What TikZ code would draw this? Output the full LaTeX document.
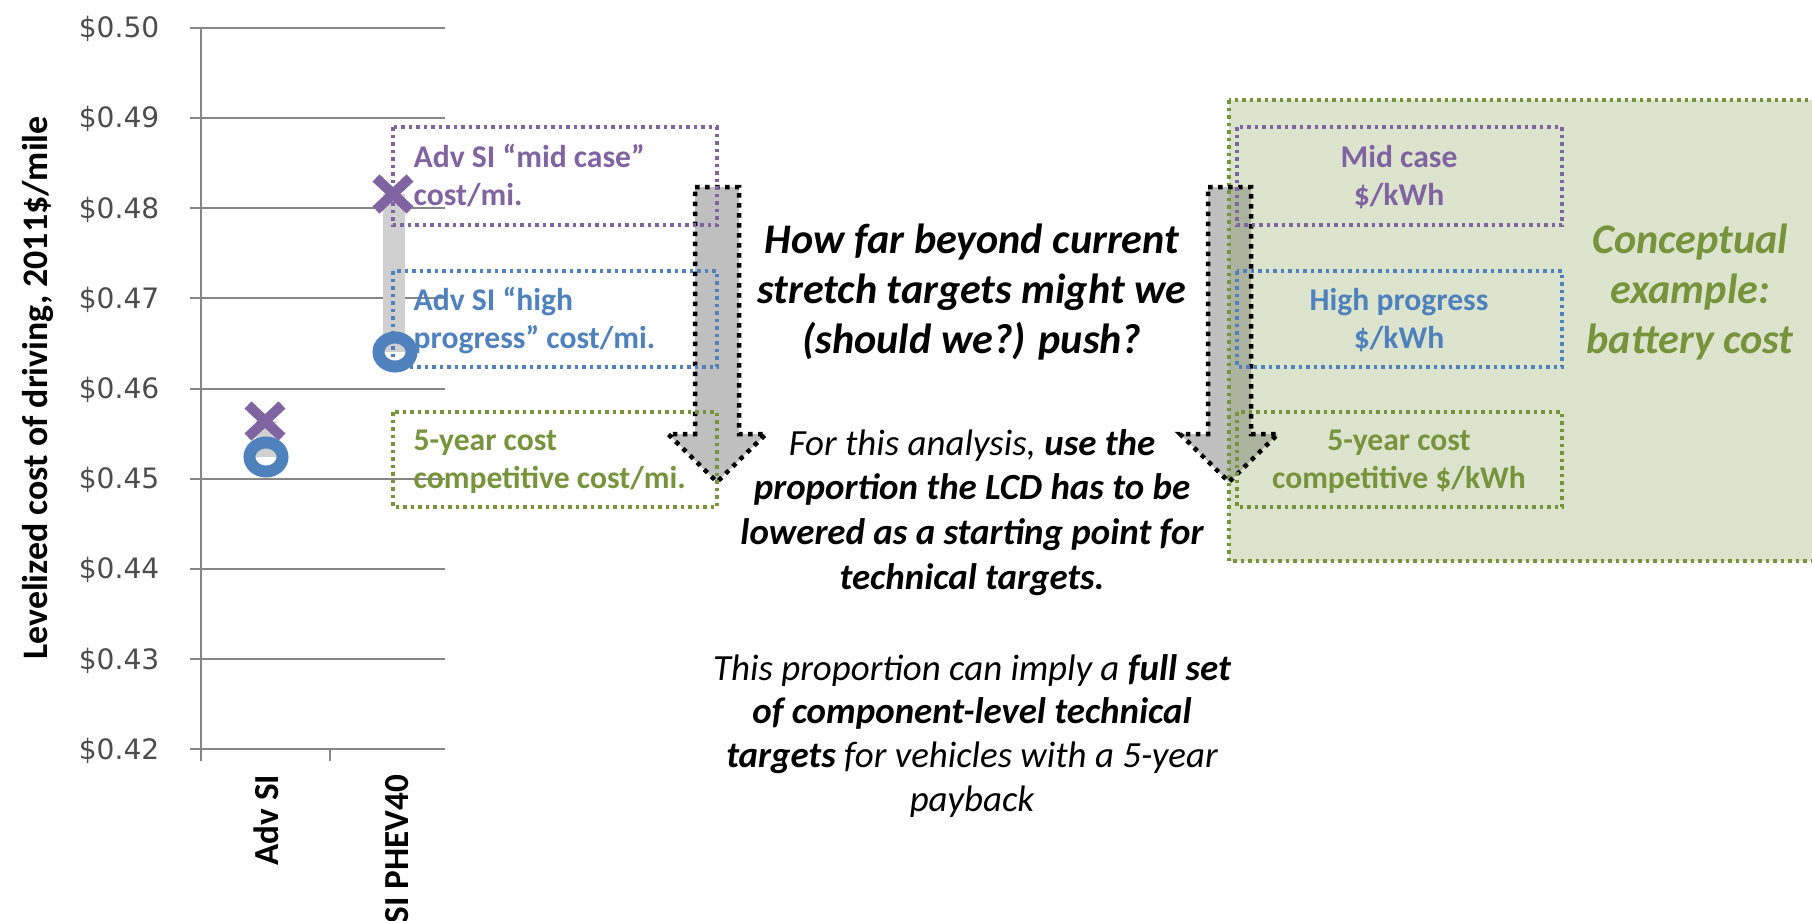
\documentclass[tikz,border=0pt]{standalone}
\usepackage{fontspec}
\setmainfont{Carlito}
\newfontfamily\tickfont{DejaVu Sans}
\usepackage{tikz}
\definecolor{gridgray}{HTML}{868686}
\definecolor{purp}{HTML}{8064A2}
\definecolor{blu}{HTML}{4F81BD}
\definecolor{olive}{HTML}{77933C}
\definecolor{bargray}{HTML}{D0D0D0}
\definecolor{arrowgray}{HTML}{BFBFBF}
\newcommand{\boxfont}{\bfseries\fontsize{9}{10.8}\selectfont}
\newcommand{\bigfont}{\bfseries\itshape\fontsize{12}{14.4}\selectfont}
\newcommand{\midfont}{\itshape\fontsize{10.5}{12.6}\selectfont}
\tikzset{
  gridline/.style={color=gridgray, line width=0.2mm},
  ticklabel/.style={anchor=base east, inner sep=0pt, text=black!70, font=\tickfont\fontsize{8}{9}\selectfont},
  catlabel/.style={anchor=east, rotate=90, inner sep=0pt, font=\bfseries\fontsize{10}{12}\selectfont},
  dotbox/.style={line width=0.35mm, dash pattern=on 0.35mm off 0.4mm},
  dotarrow/.style={line width=0.45mm, dash pattern=on 0.45mm off 0.55mm},
  xmark/.style={color=purp, line width=1mm},
  omark/.style={color=blu, line width=1.2mm},
  line/.style={anchor=base, inner sep=0pt},
}

\begin{document}
\begin{tikzpicture}[x=0.1mm, y=-0.1mm]
\useasboundingbox (0,0) rectangle (1812,920);
\clip (0,0) rectangle (1812,920);
% chart
\draw[gridline] (190,27.7)--(445,27.7);
\draw[gridline] (190,117.9)--(445,117.9);
\draw[gridline] (190,208.1)--(445,208.1);
\draw[gridline] (190,298.3)--(445,298.3);
\draw[gridline] (190,388.5)--(445,388.5);
\draw[gridline] (190,478.7)--(445,478.7);
\draw[gridline] (190,568.9)--(445,568.9);
\draw[gridline] (190,659.1)--(445,659.1);
\draw[gridline] (190,749.3)--(445,749.3);
\draw[gridline] (201,27.7)--(201,761);
\draw[gridline] (330,749.3)--(330,761);
\draw (160,37.7) node[ticklabel] (t50) {\$0.50};
\draw (160,127.9) node[ticklabel] (t49) {\$0.49};
\draw (160,218.1) node[ticklabel] (t48) {\$0.48};
\draw (160,308.3) node[ticklabel] (t47) {\$0.47};
\draw (160,398.5) node[ticklabel] (t46) {\$0.46};
\draw (160,488.7) node[ticklabel] (t45) {\$0.45};
\draw (160,578.9) node[ticklabel] (t44) {\$0.44};
\draw (160,669.1) node[ticklabel] (t43) {\$0.43};
\draw (160,759.3) node[ticklabel] (t42) {\$0.42};
\draw (38,388) node[rotate=90, font=\bfseries\fontsize{10.2}{12}\selectfont] (ytitle) {Levelized cost of driving, 2011\$/mile};
\draw (266,774) node[catlabel] (advsi) {Adv SI};
\draw (397,774) node[catlabel] (phev) {SI PHEV40};
% range bars and markers
\fill[bargray] (256,421)--(276,421)--(276,457)--(256,457)--cycle;
\fill[bargray] (383,194)--(405,194)--(405,352)--(383,352)--cycle;
\draw[xmark] (248,405)--(282,437);
\draw[xmark] (248,437)--(282,405);
\draw[xmark] (376,178)--(410,210);
\draw[xmark] (376,210)--(410,178);
\draw[omark] (266,457) ellipse [x radius=16.5, y radius=14.5];
\draw[omark] (395,352) ellipse [x radius=16.5, y radius=14.5];
% left arrow
\draw[fill=arrowgray, dotarrow] (695,187)--(739,187)--(739,434)--(766,434)--(717,482)--(668,434)--(695,434)--cycle;
% left boxes
\draw[purp, dotbox] (393,127) rectangle (717,225);
\draw[blu, dotbox] (393,271) rectangle (717,367);
\draw[olive, dotbox] (393,412) rectangle (717,507);
\draw (413,167) node[line, anchor=base west, text=purp, font=\boxfont] (mid1) {Adv SI “mid case”};
\draw (413,205) node[line, anchor=base west, text=purp, font=\boxfont] (mid2) {cost/mi.};
\draw (413,310) node[line, anchor=base west, text=blu, font=\boxfont] (high1) {Adv SI “high};
\draw (413,348) node[line, anchor=base west, text=blu, font=\boxfont] (high2) {progress” cost/mi.};
\draw (413,450) node[line, anchor=base west, text=olive, font=\boxfont] (five1) {5-year cost};
\draw (413,488) node[line, anchor=base west, text=olive, font=\boxfont] (five2) {competitive cost/mi.};
% right arrow under the example panel
\fill[arrowgray] (1208,187)--(1251,187)--(1251,434)--(1278,434)--(1229,482)--(1180,434)--(1208,434)--cycle;
\fill[olive, fill opacity=0.25] (1229,100) rectangle (1830,561);
\draw[olive, dotbox] (1229,100) rectangle (1830,561);
\draw[dotarrow] (1208,187)--(1251,187)--(1251,434)--(1278,434)--(1229,482)--(1180,434)--(1208,434)--cycle;
% right boxes
\draw[purp, dotbox] (1237,127) rectangle (1562,225);
\draw[blu, dotbox] (1237,271) rectangle (1562,367);
\draw[olive, dotbox] (1237,412) rectangle (1562,507);
\draw (1399,167) node[line, text=purp, font=\boxfont] (kwh1) {Mid case};
\draw (1399,205) node[line, text=purp, font=\boxfont] (kwh2) {\$/kWh};
\draw (1399,310) node[line, text=blu, font=\boxfont] (kwh3) {High progress};
\draw (1399,348) node[line, text=blu, font=\boxfont] (kwh4) {\$/kWh};
\draw (1399,450) node[line, text=olive, font=\boxfont] (kwh5) {5-year cost};
\draw (1399,488) node[line, text=olive, font=\boxfont] (kwh6) {competitive \$/kWh};
\draw (1690,253) node[line, text=olive, font=\bigfont] (ex1) {Conceptual};
\draw (1690,303) node[line, text=olive, font=\bigfont] (ex2) {example:};
\draw (1690,353) node[line, text=olive, font=\bigfont] (ex3) {battery cost};
% middle text
\draw (972,253) node[line, font=\bigfont] (q1) {How far beyond current};
\draw (972,303) node[line, font=\bigfont] (q2) {stretch targets might we};
\draw (972,353) node[line, font=\bigfont] (q3) {(should we?) push?};
\draw (972,455) node[line, font=\midfont] (p1) {For this analysis, \textbf{use the}};
\draw (972,499) node[line, font=\midfont\bfseries] (p2) {proportion the LCD has to be};
\draw (972,544) node[line, font=\midfont\bfseries] (p3) {lowered as a starting point for};
\draw (972,589) node[line, font=\midfont\bfseries] (p4) {technical targets.};
\draw (972,680) node[line, font=\midfont] (s1) {This proportion can imply a \textbf{full set}};
\draw (972,723) node[line, font=\midfont\bfseries] (s2) {of component-level technical};
\draw (972,767) node[line, font=\midfont] (s3) {\textbf{targets} for vehicles with a 5-year};
\draw (972,811) node[line, font=\midfont] (s4) {payback};
\end{tikzpicture}
\end{document}
